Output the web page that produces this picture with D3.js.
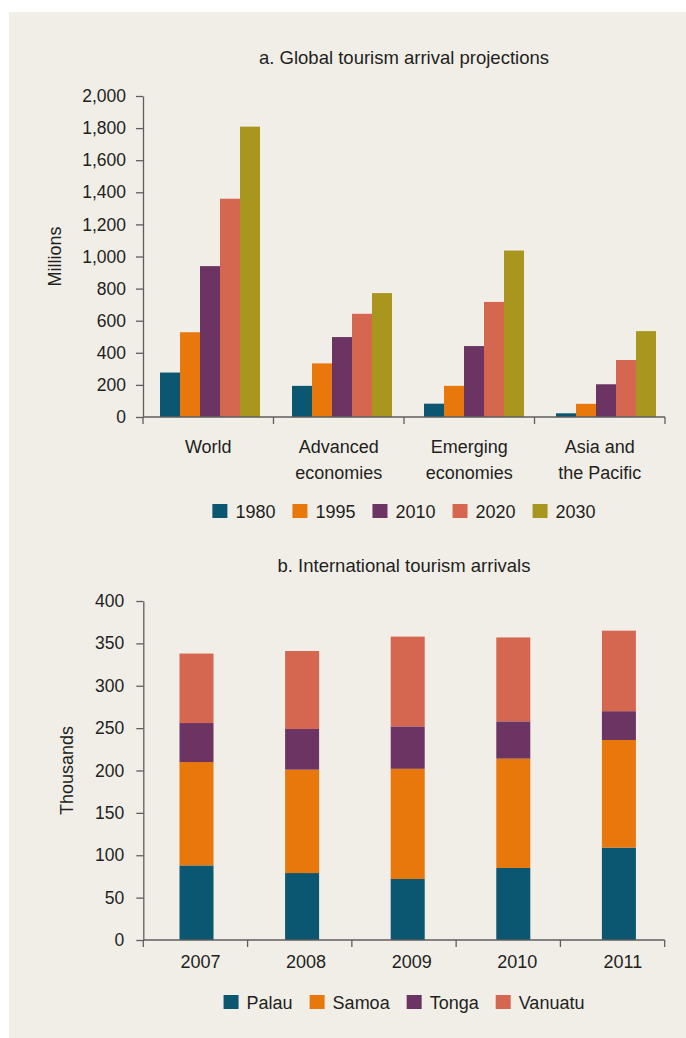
<!DOCTYPE html>
<html>
<head>
<meta charset="utf-8">
<script src="https://cdn.jsdelivr.net/npm/d3@7"></script>
<style>
  html, body { margin: 0; padding: 0; background: #ffffff; }
  svg { display: block; }
  text { font-family: "Liberation Sans", Arial, sans-serif; fill: #231f20; }
</style>
</head>
<body>
<svg id="chart" width="686" height="1038"></svg>
<script>
// ---------- Panel a data ----------
const categoriesA = ["World", "Advanced economies", "Emerging economies", "Asia and the Pacific"];
const categoryLinesA = [["World"], ["Advanced", "economies"], ["Emerging", "economies"], ["Asia and", "the Pacific"]];
const yearsA = ["1980", "1995", "2010", "2020", "2030"];
const values1980 = [277, 194, 83, 23];
const values1995 = [528, 334, 194, 82];
const values2010 = [940, 498, 442, 204];
const values2020 = [1360, 643, 717, 355];
const values2030 = [1809, 772, 1037, 535];
const yTicksA = [0, 200, 400, 600, 800, 1000, 1200, 1400, 1600, 1800, 2000];
const titleA = "a. Global tourism arrival projections";
const yLabelA = "Millions";

// ---------- Panel b data ----------
const yearsB = ["2007", "2008", "2009", "2010", "2011"];
const seriesB = ["Palau", "Samoa", "Tonga", "Vanuatu"];
const palau = [88, 79, 72, 85, 109];
const samoa = [122, 122, 130, 129, 127];
const tonga = [46, 48, 50, 44, 34];
const vanuatu = [82, 92, 106, 99, 95];
const yTicksB = [0, 50, 100, 150, 200, 250, 300, 350, 400];
const titleB = "b. International tourism arrivals";
const yLabelB = "Thousands";

// ---------- Styles ----------
const colorsA = ["#0b5671", "#e8770c", "#6b3463", "#d5664f", "#a9961f"];
const colorsB = ["#0b5671", "#e8770c", "#6b3463", "#d5664f"];
const axisColor = "#5e5e5e";
const fontSize = 18;
const tickFontSize = 17.5;

const svg = d3.select("#chart");

// background panel
svg.append("rect").attr("x", 9).attr("y", 12).attr("width", 677).attr("height", 1026).attr("fill", "#f1eee8");

function styleAxis(g) {
  g.selectAll("path.domain").attr("stroke", axisColor).attr("stroke-width", 1.3);
  g.selectAll(".tick line").attr("stroke", axisColor).attr("stroke-width", 1.3);
  g.selectAll(".tick text").attr("font-size", tickFontSize).attr("fill", "#231f20")
    .attr("font-family", "Liberation Sans, Arial, sans-serif");
}

function legend(g, names, colors, cx, baseline) {
  const sq = 15, gapText = 8, gapItem = 17;
  const items = g.selectAll("g.item").data(names).join("g").attr("class", "item");
  items.append("rect").attr("width", sq).attr("height", sq - 1).attr("y", baseline - 13.5)
    .attr("fill", (d, i) => colors[i]);
  items.append("text").attr("x", sq + gapText).attr("y", baseline).attr("font-size", fontSize).text(d => d);
  let x = 0;
  items.each(function () {
    const w = d3.select(this).select("text").node().getComputedTextLength();
    d3.select(this).attr("transform", `translate(${x},0)`);
    x += sq + gapText + w + gapItem;
  });
  const total = x - gapItem;
  g.attr("transform", `translate(${cx - total / 2},0)`);
}

// ================= Panel a =================
{
  const left = 143, right = 665, top = 96, bottom = 417;
  const y = d3.scaleLinear().domain([0, 2000]).range([bottom, top]);
  const xCat = d3.scaleBand().domain(categoriesA).range([left, right]);
  const xGroup = d3.scaleBand().domain(categoriesA).range([160, 656]).paddingInner(32 / 132);
  const xYear = d3.scaleBand().domain(yearsA).range([0, xGroup.bandwidth()]);
  const seriesVals = [values1980, values1995, values2010, values2020, values2030];

  svg.append("text").attr("x", (left + right) / 2).attr("y", 64).attr("text-anchor", "middle")
    .attr("font-size", 18.5).text(titleA);

  // bars
  const groups = svg.append("g").selectAll("g").data(categoriesA).join("g")
    .attr("transform", d => `translate(${xGroup(d)},0)`);
  groups.selectAll("rect").data((c, ci) => yearsA.map((yr, si) => ({ yr, si, v: seriesVals[si][ci] })))
    .join("rect")
    .attr("x", d => xYear(d.yr)).attr("width", xYear.bandwidth())
    .attr("y", d => y(d.v)).attr("height", d => y(0) - y(d.v))
    .attr("fill", d => colorsA[d.si]);

  // y axis
  const gy = svg.append("g").attr("transform", `translate(${left},0)`)
    .call(d3.axisLeft(y).tickValues(yTicksA).tickFormat(d3.format(",")).tickSize(7).tickPadding(10).tickSizeOuter(0));
  styleAxis(gy);

  // x axis line + boundary ticks
  const gx = svg.append("g");
  gx.append("line").attr("x1", left).attr("x2", right).attr("y1", bottom).attr("y2", bottom)
    .attr("stroke", axisColor).attr("stroke-width", 1.3);
  const bounds = categoriesA.map(c => xCat(c)).concat([xCat.range()[1]]);
  gx.selectAll("line.tk").data(bounds).join("line").attr("class", "tk")
    .attr("x1", d => d).attr("x2", d => d).attr("y1", bottom).attr("y2", bottom + 7)
    .attr("stroke", axisColor).attr("stroke-width", 1.3);
  const lbl = gx.selectAll("text.cat").data(categoriesA).join("text").attr("class", "cat")
    .attr("text-anchor", "middle").attr("font-size", fontSize)
    .attr("x", d => xCat(d) + xCat.bandwidth() / 2).attr("y", 453);
  lbl.selectAll("tspan").data((d, i) => categoryLinesA[i]).join("tspan")
    .attr("x", function () { return d3.select(this.parentNode).attr("x"); })
    .attr("dy", (d, i) => i === 0 ? 0 : 26).text(d => d);

  svg.append("text").attr("transform", `translate(60.5,${(top + bottom) / 2}) rotate(-90)`)
    .attr("text-anchor", "middle").attr("font-size", fontSize).text(yLabelA);

  legend(svg.append("g"), yearsA, colorsA, (left + right) / 2, 517.5);
}

// ================= Panel b =================
{
  const left = 143.3, right = 664.7, top = 601, bottom = 940;
  const y = d3.scaleLinear().domain([0, 400]).range([bottom, top]);
  const xCat = d3.scaleBand().domain(yearsB).range([left, right]);
  const xBar = d3.scaleBand().domain(yearsB).range([143.7, 671.7]).paddingInner(0.678).paddingOuter(0.339);
  const seriesVals = [palau, samoa, tonga, vanuatu];

  svg.append("text").attr("x", (left + right) / 2).attr("y", 571.5).attr("text-anchor", "middle")
    .attr("font-size", 18.5).text(titleB);

  const table = yearsB.map((yr, i) => {
    const o = { year: yr };
    seriesB.forEach((s, si) => { o[s] = seriesVals[si][i]; });
    return o;
  });
  const stacked = d3.stack().keys(seriesB)(table);

  svg.append("g").selectAll("g").data(stacked).join("g")
    .attr("fill", (d, i) => colorsB[i])
    .selectAll("rect").data(d => d).join("rect")
    .attr("x", d => xBar(d.data.year)).attr("width", xBar.bandwidth())
    .attr("y", d => y(d[1])).attr("height", d => y(d[0]) - y(d[1]));

  const gy = svg.append("g").attr("transform", `translate(${left},0)`)
    .call(d3.axisLeft(y).tickValues(yTicksB).tickFormat(d3.format("d")).tickSize(7).tickPadding(12).tickSizeOuter(0));
  styleAxis(gy);

  const gx = svg.append("g");
  gx.append("line").attr("x1", left).attr("x2", right).attr("y1", bottom).attr("y2", bottom)
    .attr("stroke", axisColor).attr("stroke-width", 1.3);
  const bounds = yearsB.map(c => xCat(c)).concat([xCat.range()[1]]);
  gx.selectAll("line.tk").data(bounds).join("line").attr("class", "tk")
    .attr("x1", d => d).attr("x2", d => d).attr("y1", bottom).attr("y2", bottom + 7)
    .attr("stroke", axisColor).attr("stroke-width", 1.3);
  gx.selectAll("text.cat").data(yearsB).join("text").attr("class", "cat")
    .attr("text-anchor", "middle").attr("font-size", fontSize)
    .attr("x", d => xBar(d) + xBar.bandwidth() / 2 + 4).attr("y", 967.5).text(d => d);

  svg.append("text").attr("transform", `translate(72.5,${(top + bottom) / 2}) rotate(-90)`)
    .attr("text-anchor", "middle").attr("font-size", fontSize).text(yLabelB);

  legend(svg.append("g"), seriesB, colorsB, (left + right) / 2, 1008.5);
}
</script>
</body>
</html>
